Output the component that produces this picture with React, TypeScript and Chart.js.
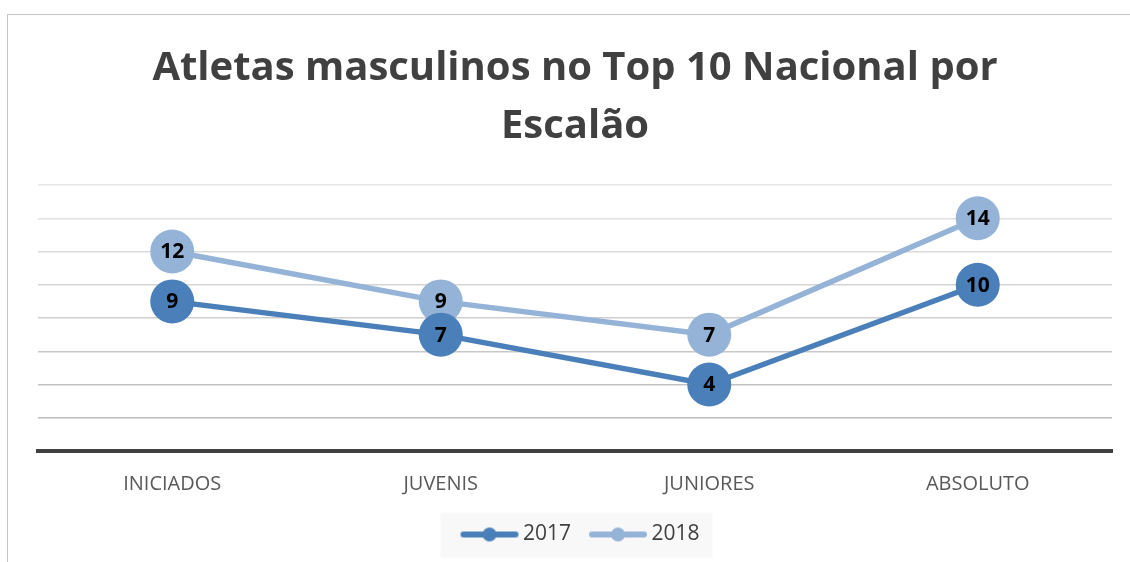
import React, { useEffect, useRef } from "react";
import { Chart, registerables } from "chart.js";

Chart.register(...registerables);

const categories = ["INICIADOS", "JUVENIS", "JUNIORES", "ABSOLUTO"];
const series2017 = [9, 7, 4, 10];
const series2018 = [12, 9, 7, 14];
const seriesLabels = ["2017", "2018"];
const titleLines = ["Atletas masculinos no Top 10 Nacional por", "Escalão"];

const COLOR_2017 = "#4a7fb9";
const COLOR_2018 = "#95b3d7";
const FONT = "'Open Sans', 'Liberation Sans', sans-serif";

function makeLegendMarker(color: string): HTMLCanvasElement {
  const c = document.createElement("canvas");
  c.width = 80;
  c.height = 16;
  const ctx = c.getContext("2d")!;
  ctx.strokeStyle = color;
  ctx.lineWidth = 6;
  ctx.lineCap = "round";
  ctx.beginPath();
  ctx.moveTo(22, 8);
  ctx.lineTo(74, 8);
  ctx.stroke();
  ctx.fillStyle = color;
  ctx.beginPath();
  ctx.arc(48, 8, 7, 0, Math.PI * 2);
  ctx.fill();
  return c;
}

const valueLabelsPlugin = {
  id: "valueLabels",
  afterDatasetsDraw(chart: any) {
    const ctx = chart.ctx;
    ctx.save();
    ctx.font = `bold 21px ${FONT}`;
    ctx.fillStyle = "#000000";
    ctx.textAlign = "center";
    ctx.textBaseline = "middle";
    chart.data.datasets.forEach((ds: any, i: number) => {
      const meta = chart.getDatasetMeta(i);
      meta.data.forEach((pt: any, j: number) => {
        ctx.fillText(String(ds.data[j]), pt.x, pt.y + 1);
      });
    });
    ctx.restore();
  },
};

const legendBgPlugin = {
  id: "legendBg",
  beforeDraw(chart: any) {
    const lg = chart.legend;
    if (!lg || !lg.legendHitBoxes || !lg.legendHitBoxes.length) return;
    const boxes = lg.legendHitBoxes;
    const first = boxes[0];
    const last = boxes[boxes.length - 1];
    const cy = first.top + first.height / 2;
    const ctx = chart.ctx;
    ctx.save();
    ctx.fillStyle = "#f8f8f8";
    const left = first.left + 12 - 22;
    const right = last.left + last.width + 13;
    ctx.fillRect(left, cy - 22, right - left, 45);
    ctx.restore();
  },
};

function gridColor(v: number): string {
  if (v === 0) return "rgba(0,0,0,0)";
  const t = (16 - v) / 14;
  const c = Math.round(230 - t * 42);
  return `rgb(${c},${c},${c})`;
}

export default function App() {
  const ref = useRef<HTMLCanvasElement | null>(null);

  useEffect(() => {
    if (!ref.current) return;
    const markers = [makeLegendMarker(COLOR_2017), makeLegendMarker(COLOR_2018)];
    const chart = new Chart(ref.current, {
      type: "line",
      data: {
        labels: categories,
        datasets: [
          {
            label: seriesLabels[0],
            data: series2017,
            borderColor: COLOR_2017,
            backgroundColor: COLOR_2017,
            borderWidth: 5.5,
            pointRadius: 22,
            pointHoverRadius: 22,
            pointBorderWidth: 0,
            pointBackgroundColor: COLOR_2017,
            tension: 0,
          },
          {
            label: seriesLabels[1],
            data: series2018,
            borderColor: COLOR_2018,
            backgroundColor: COLOR_2018,
            borderWidth: 5.5,
            pointRadius: 22,
            pointHoverRadius: 22,
            pointBorderWidth: 0,
            pointBackgroundColor: COLOR_2018,
            tension: 0,
          },
        ],
      },
      options: {
        responsive: false,
        animation: false,
        layout: { autoPadding: false, padding: { left: 38, right: 18, top: 0, bottom: 7 } },
        plugins: {
          title: {
            display: true,
            text: titleLines,
            color: "#404040",
            font: { family: FONT, size: 40, weight: "bold", lineHeight: 1.45 },
            padding: { top: 40, bottom: 29 },
          },
          legend: {
            display: true,
            position: "bottom",
            labels: {
              usePointStyle: true,
              pointStyleWidth: 62,
              padding: 8,
              color: "#404040",
              font: { family: FONT, size: 21 },
              generateLabels: () =>
                seriesLabels.map((s, i) => ({
                  text: s,
                  pointStyle: markers[i] as any,
                  fillStyle: i === 0 ? COLOR_2017 : COLOR_2018,
                  strokeStyle: i === 0 ? COLOR_2017 : COLOR_2018,
                  lineWidth: 0,
                  hidden: false,
                  datasetIndex: i,
                  fontColor: "#404040",
                })),
            },
          },
          tooltip: { enabled: false },
        },
        scales: {
          x: {
            offset: true,
            grid: { display: false, drawTicks: false },
            border: { display: true, color: "#404040", width: 4 },
            ticks: {
              color: "#595959",
              padding: 21,
              font: { family: FONT, size: 20 },
            },
            afterFit: (s: any) => {
              s.height = 65;
              s.paddingLeft = 0;
              s.paddingRight = 0;
            },
          },
          y: {
            min: 0,
            max: 16,
            ticks: { stepSize: 2, display: false },
            grid: {
              drawTicks: false,
              lineWidth: 1.5,
              color: (c: any) => gridColor(c.tick ? c.tick.value : 0),
            },
            border: { display: false },
            afterFit: (s: any) => {
              s.width = 0;
            },
          },
        },
      },
      plugins: [legendBgPlugin, valueLabelsPlugin],
    });
    return () => chart.destroy();
  }, []);

  return (
    <div style={{ position: "fixed", left: 0, top: 0, width: 1130, height: 562, background: "#ffffff" }}>
      <div
        style={{
          position: "absolute",
          left: 7,
          top: 14,
          width: 1200,
          height: 600,
          borderLeft: "1.5px solid #c4c4c4",
          borderTop: "1.5px solid #c4c4c4",
        }}
      />
      <canvas ref={ref} width={1130} height={562} style={{ position: "absolute", left: 0, top: 0 }} />
    </div>
  );
}
